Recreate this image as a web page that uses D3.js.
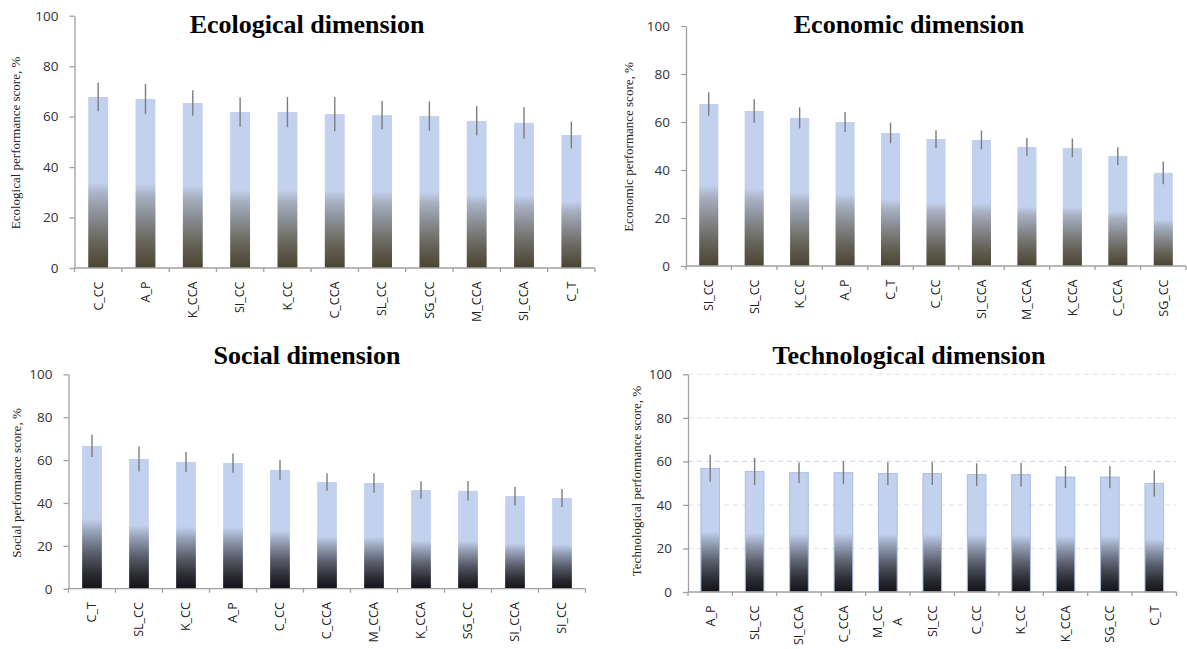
<!DOCTYPE html>
<html>
<head>
<meta charset="utf-8">
<script src="https://cdn.jsdelivr.net/npm/d3@7"></script>
<style>
  body { margin: 0; background: #fff; }
  svg { display: block; }
</style>
</head>
<body>
<svg id="chart" width="1187" height="649"></svg>
<script>
// ---- Data: mean performance score (%) and error (±) per case, by dimension ----
const yTickValues = [0, 20, 40, 60, 80, 100];

const ecoCategories = ["C_CC", "A_P", "K_CCA", "SI_CC", "K_CC", "C_CCA", "SL_CC", "SG_CC", "M_CCA", "SI_CCA", "C_T"];
const ecoValues     = [67.8, 67.0, 65.4, 61.8, 61.8, 61.0, 60.6, 60.2, 58.3, 57.5, 52.7];
const ecoErrors     = [5.7, 5.9, 5.1, 5.8, 6.0, 6.8, 5.6, 5.8, 5.8, 6.2, 5.3];

const econCategories = ["SI_CC", "SL_CC", "K_CC", "A_P", "C_T", "C_CC", "SI_CCA", "M_CCA", "K_CCA", "C_CCA", "SG_CC"];
const econValues     = [67.5, 64.6, 61.7, 60.0, 55.4, 52.9, 52.5, 49.6, 49.2, 45.8, 38.8];
const econErrors     = [4.9, 4.9, 4.4, 4.2, 4.3, 3.7, 3.9, 3.7, 3.9, 3.7, 4.7];

const socCategories = ["C_T", "SL_CC", "K_CC", "A_P", "C_CC", "C_CCA", "M_CCA", "K_CCA", "SG_CC", "SI_CCA", "SI_CC"];
const socValues     = [66.6, 60.5, 59.1, 58.6, 55.4, 49.8, 49.3, 46.0, 45.6, 43.2, 42.3];
const socErrors     = [5.2, 5.8, 4.7, 4.5, 4.6, 4.1, 4.6, 4.1, 4.6, 4.4, 4.2];

const techCategories = ["A_P", "SL_CC", "SI_CCA", "C_CCA", "M_CC\nA", "SI_CC", "C_CC", "K_CC", "K_CCA", "SG_CC", "C_T"];
const techValues     = [56.8, 55.4, 54.8, 54.8, 54.4, 54.4, 53.9, 53.9, 52.8, 52.8, 49.9];
const techErrors     = [6.2, 6.2, 4.7, 5.3, 5.2, 5.2, 5.2, 5.4, 5.1, 5.1, 6.0];

// ---- Panel layout ----
const panels = [
  { title: "Ecological dimension", yLabel: "Ecological performance score, %",
    cats: ecoCategories, vals: ecoValues, errs: ecoErrors,
    x0: 74.5, x1: 595, yTop: 15.7, yBottom: 268, titleX: 307, titleY: 33,
    labelX: 15, labelY: 143, fill: "olive", grid: false, outline: false },
  { title: "Economic dimension", yLabel: "Economic performance score,  %",
    cats: econCategories, vals: econValues, errs: econErrors,
    x0: 686, x1: 1186, yTop: 26, yBottom: 266, titleX: 909, titleY: 33,
    labelX: 628, labelY: 147, fill: "olive", grid: false, outline: false },
  { title: "Social dimension", yLabel: "Social performance score, %",
    cats: socCategories, vals: socValues, errs: socErrors,
    x0: 68.5, x1: 585.5, yTop: 374.3, yBottom: 588.7, titleX: 307, titleY: 364,
    labelX: 16, labelY: 483, fill: "dark", grid: false, outline: false },
  { title: "Technological dimension", yLabel: "Technological performance score, %",
    cats: techCategories, vals: techValues, errs: techErrors,
    x0: 688, x1: 1176.5, yTop: 374.3, yBottom: 592, titleX: 909, titleY: 364,
    labelX: 636, labelY: 481, fill: "dark", grid: true, outline: true }
];

const svg = d3.select("#chart");
const defs = svg.append("defs");

// Vertical bar gradients: pale blue on top fading to a dark base
function addGradient(id, stops) {
  const g = defs.append("linearGradient").attr("id", id)
    .attr("x1", 0).attr("y1", 0).attr("x2", 0).attr("y2", 1);
  stops.forEach(([o, c]) => g.append("stop").attr("offset", o).attr("stop-color", c));
}
addGradient("grad-olive", [
  [0, "#c2d1ee"], [0.50, "#c2d1ee"], [0.57, "#a8b1c3"], [0.70, "#888b91"],
  [0.85, "#66645a"], [1, "#4a4430"]
]);
addGradient("grad-dark", [
  [0, "#c2d1ee"], [0.51, "#c2d1ee"], [0.60, "#98a3ba"], [0.75, "#5a5f6c"],
  [0.90, "#2a2b31"], [1, "#131317"]
]);

const axisColor = "#a0a0a0";
const tickFont = "'Open Sans', 'Liberation Sans', sans-serif";
const serif = "'Liberation Serif', 'Times New Roman', serif";

panels.forEach(p => {
  const g = svg.append("g");

  const x = d3.scaleBand().domain(p.cats).range([p.x0, p.x1]).padding(0);
  const y = d3.scaleLinear().domain([0, 100]).range([p.yBottom, p.yTop]);
  const barW = x.bandwidth() * 0.42;

  // dashed horizontal gridlines
  if (p.grid) {
    g.append("g").selectAll("line")
      .data(yTickValues.filter(v => v > 0))
      .join("line")
      .attr("x1", p.x0).attr("x2", p.x1)
      .attr("y1", d => y(d)).attr("y2", d => y(d))
      .attr("stroke", d => d === 60 ? "#c9d5ee" : "#dde1ea")
      .attr("stroke-width", 1)
      .attr("stroke-dasharray", "5,4");
  }

  // bars
  g.append("g").selectAll("rect")
    .data(p.cats.map((c, i) => ({ c, v: p.vals[i] })))
    .join("rect")
    .attr("x", d => x(d.c) + (x.bandwidth() - barW) / 2)
    .attr("width", barW)
    .attr("y", d => y(d.v))
    .attr("height", d => y(0) - y(d.v))
    .attr("fill", `url(#grad-${p.fill})`)
    .attr("stroke", p.outline ? "#a9bde6" : "none")
    .attr("stroke-width", p.outline ? 1 : 0);

  // error bars
  g.append("g").selectAll("line")
    .data(p.cats.map((c, i) => ({ c, v: p.vals[i], e: p.errs[i] })))
    .join("line")
    .attr("x1", d => x(d.c) + x.bandwidth() / 2)
    .attr("x2", d => x(d.c) + x.bandwidth() / 2)
    .attr("y1", d => y(d.v + d.e))
    .attr("y2", d => y(d.v - d.e))
    .attr("stroke", "#7c7c7c")
    .attr("stroke-width", 1.4);

  // y axis
  const yAxis = g.append("g")
    .attr("transform", `translate(${p.x0},0)`)
    .call(d3.axisLeft(y).tickValues(yTickValues).tickSize(5).tickPadding(11).tickSizeOuter(0));
  yAxis.select(".domain").attr("stroke", axisColor).attr("stroke-width", 1.3);
  yAxis.selectAll(".tick line").attr("stroke", axisColor).attr("stroke-width", 1.3);
  yAxis.selectAll(".tick text")
    .attr("font-family", tickFont).attr("font-size", 13.5).attr("fill", "#333");

  // x axis line with ticks between categories
  g.append("line")
    .attr("x1", p.x0).attr("x2", p.x1)
    .attr("y1", p.yBottom).attr("y2", p.yBottom)
    .attr("stroke", axisColor).attr("stroke-width", 1.3);
  const bounds = p.cats.map(c => x(c)).concat([p.x1]);
  g.append("g").selectAll("line")
    .data(bounds)
    .join("line")
    .attr("x1", d => d).attr("x2", d => d)
    .attr("y1", p.yBottom).attr("y2", p.yBottom + 4)
    .attr("stroke", axisColor).attr("stroke-width", 1.3);

  // rotated category labels
  p.cats.forEach(c => {
    const cx = x(c) + x.bandwidth() / 2;
    const lines = c.split("\n");
    const t = g.append("text")
      .attr("transform", `translate(${cx},${p.yBottom + 13.5}) rotate(-90)`)
      .attr("font-family", tickFont).attr("font-size", 12.5).attr("fill", "#222");
    if (lines.length === 1) {
      t.attr("text-anchor", "end").attr("dy", "0.35em").text(c);
    } else {
      const spans = lines.map(ln => t.append("tspan").text(ln));
      const maxLen = d3.max(spans.map(s => s.node().getComputedTextLength()));
      t.attr("text-anchor", "middle");
      const gap = 20;
      const start = -(lines.length - 1) * gap / 2;
      spans.forEach((s, i) => s.attr("x", -maxLen / 2).attr("y", start + i * gap + 4.4));
    }
  });

  // title
  g.append("text")
    .attr("x", p.titleX).attr("y", p.titleY)
    .attr("text-anchor", "middle")
    .attr("font-family", serif).attr("font-weight", "bold").attr("font-size", 26)
    .attr("fill", "#000")
    .text(p.title);

  // y axis label
  g.append("text")
    .attr("transform", `translate(${p.labelX},${p.labelY}) rotate(-90)`)
    .attr("text-anchor", "middle").attr("dy", "0.35em")
    .attr("font-family", serif).attr("font-size", 13).attr("fill", "#222")
    .text(p.yLabel);
});
</script>
</body>
</html>
